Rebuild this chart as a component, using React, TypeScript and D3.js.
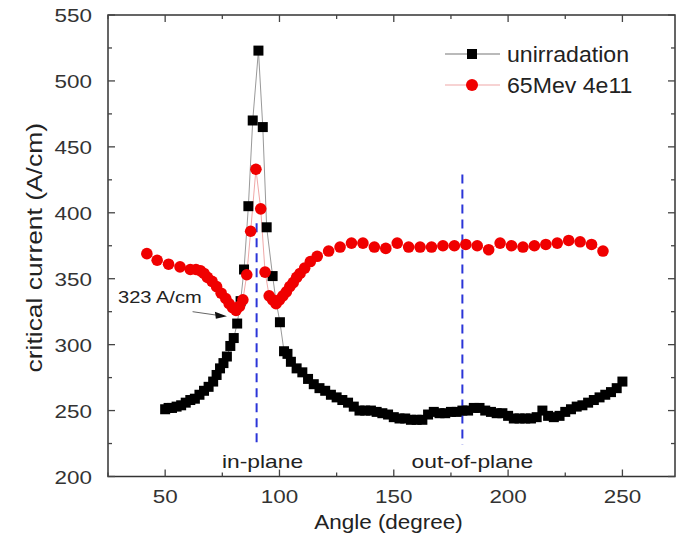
import React, { useEffect, useRef } from "react";
import * as d3 from "d3";

// unirradiated sample (black squares)
const blackAngles = [50, 51.5, 53, 55, 57, 59, 61, 63, 65, 67, 69, 71, 72.5, 74, 75.5, 77, 78.5, 80, 81.5, 83, 84.5, 86.4, 88.3, 90.8, 92.7, 94.4, 97, 98.5, 100.2, 102, 103.5, 105, 107.5, 110, 112.5, 115, 117.5, 120, 122.5, 125, 127.5, 130, 132.5, 135, 137.5, 140, 142.5, 145, 147.5, 150, 152.5, 155, 157.5, 160, 162.5, 165, 167.5, 170, 172.5, 175, 177.5, 180, 182.5, 185, 187.5, 190, 192.5, 195, 197.5, 200, 202.5, 205, 207.5, 210, 212.5, 215, 217.5, 220, 222.5, 225, 227.5, 230, 232.5, 235, 237.5, 240, 242.5, 245, 247.5, 250];
const blackValues = [251, 252, 252, 253, 254, 256, 258, 259, 262, 265, 268, 272, 277, 282, 286, 291, 299, 305, 316, 333, 357, 405, 470, 523, 465, 389, 352, 333, 317, 295, 293, 287, 282, 279, 274, 270, 267, 265, 262, 260, 258, 256, 253, 250, 250, 250, 249, 248, 247, 245, 244, 244, 243, 243, 243, 247, 249, 248, 248, 249, 249, 250, 250, 252, 252, 250, 249, 248, 248, 246, 244, 244, 244, 244, 245, 250, 246, 245, 246, 249, 251, 253, 254, 256, 258, 260, 262, 264, 267, 272];

// 65 MeV 4e11 irradiated sample (red circles)
const redAngles = [42, 46.5, 51.5, 56.5, 61, 63.5, 65.5, 67, 68.5, 70.5, 72.5, 74.5, 76.5, 78, 79.5, 81, 82.5, 84, 85.7, 87.4, 89.7, 91.8, 93.7, 95.5, 97, 98.5, 100, 101.5, 103, 104.5, 106, 107.5, 109, 111, 113.5, 116.5, 121.5, 126.5, 131.5, 136.5, 141.5, 146.5, 151.5, 156.5, 161.5, 166.5, 171.5, 176.5, 181.5, 186.5, 191.5, 196.5, 201.5, 206.5, 211.5, 216.5, 221.5, 226.5, 231.5, 236.5, 241.5];
const redValues = [369, 364, 361, 359, 357, 357, 356, 354, 351, 348, 344, 339, 335, 331, 328, 326, 329, 334, 353, 386, 433, 403, 355, 337, 334, 331, 334, 337, 340, 344, 347, 351, 354, 358, 363, 367, 371, 374, 377, 377, 374, 373, 377, 374, 374, 374, 375, 375, 376, 375, 372, 377, 375, 374, 375, 376, 377, 379, 378, 376, 371];

const seriesNames = ["unirradation", "65Mev 4e11"];
const xTicks = [50, 100, 150, 200, 250];
const yTicks = [200, 250, 300, 350, 400, 450, 500, 550];
const xDomain = [25, 273];
const yDomain = [200, 550];

// reference lines: angle, top value, bottom value, label
const refAngles = [90, 180];
const refTops = [392, 429];
const refBottoms = [224, 224];
const refLabels = ["in-plane", "out-of-plane"];

const annotText = "323 A/cm";

const FONT = "'Liberation Sans', Arial, sans-serif";

function stretch(sel: any, k: number) {
  const node = sel.node() as SVGTextElement;
  const w = node.getComputedTextLength();
  sel.attr("textLength", w * k).attr("lengthAdjust", "spacingAndGlyphs");
}

export default function App() {
  const ref = useRef<SVGSVGElement>(null);
  useEffect(() => {
    const svg = d3.select(ref.current);
    svg.selectAll("*").remove();
    const L = 108, R = 675, T = 15, B = 476.5;
    const x = d3.scaleLinear().domain(xDomain).range([L, R]);
    const y = d3.scaleLinear().domain(yDomain).range([B, T]);

    svg.append("rect").attr("x", L).attr("y", T).attr("width", R - L).attr("height", B - T)
      .attr("fill", "none").attr("stroke", "#333").attr("stroke-width", 1.5);

    const tickCol = "#444";
    d3.range(25, 275, 25).forEach((v) => {
      const len = v % 50 === 0 ? 7 : 4;
      svg.append("line").attr("x1", x(v)).attr("x2", x(v)).attr("y1", B).attr("y2", B - len).attr("stroke", tickCol).attr("stroke-width", 1.3);
      svg.append("line").attr("x1", x(v)).attr("x2", x(v)).attr("y1", T).attr("y2", T + len).attr("stroke", tickCol).attr("stroke-width", 1.3);
    });
    d3.range(200, 551, 25).forEach((v) => {
      const len = v % 50 === 0 ? 7 : 4;
      svg.append("line").attr("y1", y(v)).attr("y2", y(v)).attr("x1", L).attr("x2", L + len).attr("stroke", tickCol).attr("stroke-width", 1.3);
      svg.append("line").attr("y1", y(v)).attr("y2", y(v)).attr("x1", R).attr("x2", R - len).attr("stroke", tickCol).attr("stroke-width", 1.3);
    });

    xTicks.forEach((d) => {
      const t = svg.append("text").attr("x", x(d)).attr("y", B + 26).attr("text-anchor", "middle")
        .attr("font-family", FONT).attr("font-size", 19).attr("fill", "#333").text(d);
      stretch(t, 1.18);
    });
    yTicks.forEach((d) => {
      const t = svg.append("text").attr("x", L - 16).attr("y", y(d) + 7).attr("text-anchor", "end")
        .attr("font-family", FONT).attr("font-size", 19).attr("fill", "#333").text(d);
      stretch(t, 1.18);
    });

    const xt = svg.append("text").attr("x", (L + R) / 2 - 3).attr("y", 529).attr("text-anchor", "middle")
      .attr("font-family", FONT).attr("font-size", 21).attr("fill", "#222").text("Angle (degree)");
    stretch(xt, 1.07);
    const yt = svg.append("text").attr("transform", `translate(42,${(T + B) / 2 + 2}) rotate(-90)`).attr("text-anchor", "middle")
      .attr("font-family", FONT).attr("font-size", 22).attr("fill", "#222").text("critical current (A/cm)");
    stretch(yt, 1.2);

    refAngles.forEach((a, i) => {
      svg.append("line").attr("x1", x(a)).attr("x2", x(a)).attr("y1", y(refTops[i])).attr("y2", y(refBottoms[i]))
        .attr("stroke", "#2b35d8").attr("stroke-width", 2).attr("stroke-dasharray", "9,6");
      const t = svg.append("text").attr("x", x(a) + (i === 0 ? 6 : 10)).attr("y", y(refBottoms[i]) + 23).attr("text-anchor", "middle")
        .attr("font-family", FONT).attr("font-size", 19).attr("fill", "#222").text(refLabels[i]);
      stretch(t, 1.2);
    });

    const line = d3.line<[number, number]>().x((d) => x(d[0])).y((d) => y(d[1]));
    const bData: [number, number][] = blackAngles.map((a, i) => [a, blackValues[i]]);
    const rData: [number, number][] = redAngles.map((a, i) => [a, redValues[i]]);

    svg.append("path").attr("d", line(bData)).attr("fill", "none").attr("stroke", "#999").attr("stroke-width", 1);
    svg.append("path").attr("d", line(rData)).attr("fill", "none").attr("stroke", "#f0a8a8").attr("stroke-width", 1);

    const sq = 10;
    svg.selectAll(".bs").data(bData).enter().append("rect")
      .attr("x", (d) => x(d[0]) - sq / 2).attr("y", (d) => y(d[1]) - sq / 2)
      .attr("width", sq).attr("height", sq).attr("fill", "#000");
    svg.selectAll(".rc").data(rData).enter().append("circle")
      .attr("cx", (d) => x(d[0])).attr("cy", (d) => y(d[1])).attr("r", 5.8).attr("fill", "#f00000");

    const at = svg.append("text").attr("x", x(29.4)).attr("y", y(331.5)).attr("font-family", FONT).attr("font-size", 17)
      .attr("fill", "#222").text(annotText);
    stretch(at, 1.18);
    const ax1 = x(62), ay1 = y(325), ax2 = x(77), ay2 = y(321.5);
    svg.append("line").attr("x1", ax1).attr("y1", ay1).attr("x2", ax2 - 8).attr("y2", ay2 - 0.8).attr("stroke", "#666").attr("stroke-width", 1);
    svg.append("path").attr("d", `M${ax2},${ay2} L${ax2 - 12},${ay2 - 4.5} L${ax2 - 11},${ay2 + 2.5} Z`).attr("fill", "#111");

    const lgX = 445, lgY = [54, 85];
    seriesNames.forEach((n, i) => {
      svg.append("line").attr("x1", lgX).attr("x2", lgX + 55).attr("y1", lgY[i]).attr("y2", lgY[i])
        .attr("stroke", i === 0 ? "#777" : "#f0a8a8").attr("stroke-width", 1.2);
      if (i === 0) {
        svg.append("rect").attr("x", lgX + 27 - 5).attr("y", lgY[i] - 5).attr("width", 10).attr("height", 10).attr("fill", "#000");
      } else {
        svg.append("circle").attr("cx", lgX + 27).attr("cy", lgY[i]).attr("r", 6).attr("fill", "#f00000");
      }
      const t = svg.append("text").attr("x", 507).attr("y", lgY[i] + 8).attr("font-family", FONT).attr("font-size", 22)
        .attr("fill", "#222").text(n);
      stretch(t, 1.05);
    });
  }, []);
  return (
    <svg ref={ref} width={680} height={540} style={{ position: "absolute", left: 0, top: 0, background: "#fff" }} />
  );
}
